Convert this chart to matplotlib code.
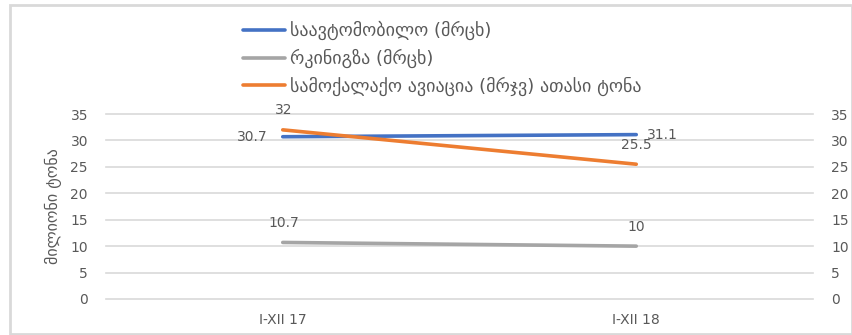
import matplotlib
matplotlib.use("Agg")
import matplotlib.pyplot as plt
from matplotlib.patches import Rectangle

categories = ["I-XII 17", "I-XII 18"]
road = [30.7, 31.1]
rail = [10.7, 10.0]
air = [32.0, 25.5]
road_labels = ["30.7", "31.1"]
rail_labels = ["10.7", "10"]
air_labels = ["32", "25.5"]
series_names = ["საავტომობილო (მრცხ)", "რკინიგზა (მრცხ)", "სამოქალაქო ავიაცია (მრჯვ) ათასი ტონა"]
y_ticks = [0, 5, 10, 15, 20, 25, 30, 35]
ylabel = "მილიონი ტონა"

W, H = 853, 335
fig = plt.figure(figsize=(W/100, H/100), dpi=100)
plt.rcParams['font.family'] = ['DejaVu Sans']
tc = '#595959'

ax = fig.add_axes([106/W, 1-299/H, (813-106)/W, (299-114)/H])
ax2 = ax.twinx()
x = list(range(len(categories)))

l1, = ax.plot(x, road, color='#4472C4', lw=2.6, solid_capstyle='round', zorder=3)
l2, = ax.plot(x, rail, color='#A5A5A5', lw=2.6, solid_capstyle='round', zorder=3)
l3, = ax2.plot(x, air, color='#ED7D31', lw=2.6, solid_capstyle='round', zorder=3)

for a in (ax, ax2):
    a.set_ylim(0, 35)
    a.set_xlim(-0.5, 1.5)
    a.set_yticks(y_ticks)
    for s in a.spines.values():
        s.set_visible(False)
    a.tick_params(length=0, labelsize=10, colors=tc)
ax.tick_params(axis='y', pad=13)
ax2.tick_params(axis='y', pad=13)
ax.set_xticks(x)
ax.set_xticklabels(categories)
ax.tick_params(axis='x', pad=10)
ax.yaxis.grid(True, color='#D9D9D9', lw=1.2)
for gl in ax.yaxis.get_gridlines():
    gl.set_clip_on(False)
ax.set_axisbelow(True)
ax.set_ylabel(ylabel, color=tc, fontsize=11.5, labelpad=6)

kw = dict(textcoords='offset points', fontsize=10, color=tc, va='center')
ax.annotate(road_labels[0], (x[0], road[0]), xytext=(-11, 0), ha='right', **kw)
ax.annotate(road_labels[1], (x[1], road[1]), xytext=(8, 0), ha='left', **kw)
for i in range(2):
    ax.annotate(rail_labels[i], (x[i], rail[i]), xytext=(1 if i == 0 else 0, 14), ha='center', **kw)
    ax2.annotate(air_labels[i], (x[i], air[i]), xytext=(1 if i == 0 else 0, 14), ha='center', **kw)

fig.legend([l1, l2, l3], series_names, loc='upper left', bbox_to_anchor=(243/W, 1-21/H),
           frameon=False, fontsize=13, labelcolor=tc, handlelength=2.3, handletextpad=0.28,
           labelspacing=0.47, borderaxespad=0, borderpad=0)

fig.patches.append(Rectangle((10/W, 1/H), (W-11)/W, (H-6)/H, transform=fig.transFigure,
                             fill=False, edgecolor='#D9D9D9', lw=2))
fig.savefig('out.png', dpi=100)
